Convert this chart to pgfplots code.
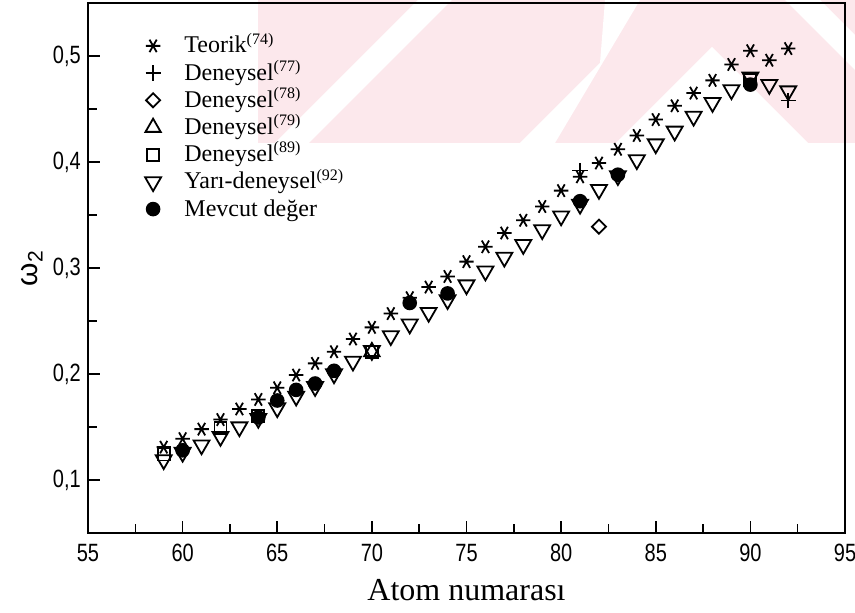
\documentclass[border=0pt]{standalone}
\usepackage{pgfplots}
\pgfplotsset{compat=1.18}
\usepackage{fontspec}
\setmainfont{Liberation Serif}
\setsansfont{Liberation Sans}
\definecolor{wmpink}{RGB}{252,232,236}
\begin{document}
\begin{tikzpicture}
\useasboundingbox (-44pt,-40pt) rectangle (383.5pt,266.5pt);
% watermark background (pixel coordinates)
\begin{scope}[shift={(-44pt,266.5pt)}, x=0.5pt, y=-0.5pt]
  \fill[wmpink] (258,0) rectangle (855,143);
  \fill[white] (275,143) -- (418,0) -- (452,0) -- (309,143) -- cycle;
  \fill[white] (520,143) -- (600,63) -- (605,0) -- (640,0) -- (555,143) -- cycle;
  \fill[white] (616,143) -- (712,47) -- (808,143) -- cycle;
  \fill[white] (785,0) -- (820,0) -- (855,35) -- (855,70) -- cycle;
\end{scope}
\begin{axis}[
  at={(0,0)}, anchor=south west,
  scale only axis,
  width=378.5pt, height=265pt,
  xmin=55, xmax=95, ymin=0.05, ymax=0.55,
  xtick={55,60,...,95}, ytick={0.1,0.2,0.3,0.4,0.5},
  minor x tick num=1, minor y tick num=1,
  tick align=inside,
  xtick pos=left, ytick pos=left,
  major tick length=6pt, minor tick length=4.5pt,
  axis line style={line width=0.9pt},
  every tick/.style={line width=0.8pt, black},
  /pgf/number format/assume math mode=true,
  /pgf/number format/use comma,
  /pgf/number format/fixed,
  ticklabel style={font=\sffamily\fontsize{12.5}{13}\selectfont, xscale=0.8},
  xticklabel style={yshift=-2pt},
  yticklabel style={xshift=-1pt},
  xlabel={Atom numarası},
  xlabel style={font=\fontsize{16}{18}\selectfont, yshift=-2pt},
  ylabel={ω\textsubscript{2}},
  ylabel style={font=\sffamily\fontsize{15}{18}\selectfont, yshift=-1pt},
  legend style={draw=none, fill=none, at={(0.055,0.95)}, anchor=north west,
    font=\fontsize{12}{13}\selectfont, row sep=1.6pt,
    nodes={inner ysep=0pt, text height=9.5pt, text depth=2.5pt}},
  legend cell align=left,
  legend image code/.code={\path[draw=none,fill=none] (0cm,0cm) -- (0.78cm,0cm);
    \draw[#1] plot coordinates {(0.3cm,0cm)};},
  every axis plot/.append style={line width=0.9pt},
]
% Teorik (74)
\addplot[only marks, mark=asterisk, mark size=3.6pt, mark options={rotate=90}] coordinates {
(59,0.131) (60,0.139) (61,0.148) (62,0.157) (63,0.167) (64,0.176) (65,0.187)
(66,0.199) (67,0.210) (68,0.221) (69,0.233) (70,0.244) (71,0.257) (72,0.272)
(73,0.282) (74,0.292) (75,0.306) (76,0.320) (77,0.333) (78,0.345) (79,0.358)
(80,0.373) (81,0.386) (82,0.399) (83,0.412) (84,0.425) (85,0.440) (86,0.453)
(87,0.465) (88,0.477) (89,0.492) (90,0.505) (91,0.496) (92,0.507)};
\addlegendentry{Teorik\textsuperscript{(74)}}
% Deneysel (77)
\addplot[only marks, mark=+, mark size=3.8pt] coordinates {
(81,0.392) (92,0.458)};
\addlegendentry{Deneysel\textsuperscript{(77)}}
% Deneysel (78)
\addplot[only marks, mark=square, mark size=2.5pt, mark options={rotate=45}] coordinates {
(82,0.339)};
\addlegendentry{Deneysel\textsuperscript{(78)}}
% Deneysel (79)
\addplot[only marks, mark=triangle, mark size=4.4pt] coordinates {
(70,0.221)};
\addlegendentry{Deneysel\textsuperscript{(79)}}
% Deneysel (89)
\addplot[only marks, mark=square, mark size=3pt] coordinates {
(59,0.124) (62,0.149) (64,0.160) (70,0.221) (90,0.477)};
\addlegendentry{Deneysel\textsuperscript{(89)}}
% Yari-deneysel (92)
\addplot[only marks, mark=triangle, mark size=4.6pt, mark options={rotate=180}] coordinates {
(59,0.119) (60,0.126) (61,0.133) (62,0.141) (63,0.150) (64,0.158) (65,0.168)
(66,0.179) (67,0.188) (68,0.200) (69,0.212) (70,0.222) (71,0.236) (72,0.247)
(73,0.258) (74,0.270) (75,0.284) (76,0.297) (77,0.310) (78,0.322) (79,0.336)
(80,0.349) (81,0.360) (82,0.374) (83,0.387) (84,0.402) (85,0.417) (86,0.429)
(87,0.443) (88,0.456) (89,0.468) (90,0.480) (91,0.473) (92,0.467)};
\addlegendentry{Yarı-deneysel\textsuperscript{(92)}}
% Mevcut deger
\addplot[only marks, mark=*, mark size=3.2pt, fill=black] coordinates {
(60,0.128) (64,0.159) (65,0.175) (66,0.185) (67,0.191) (68,0.203) (72,0.267)
(74,0.276) (81,0.363) (83,0.388) (90,0.473)};
\addlegendentry{Mevcut değer}
\end{axis}
\end{tikzpicture}
\end{document}
